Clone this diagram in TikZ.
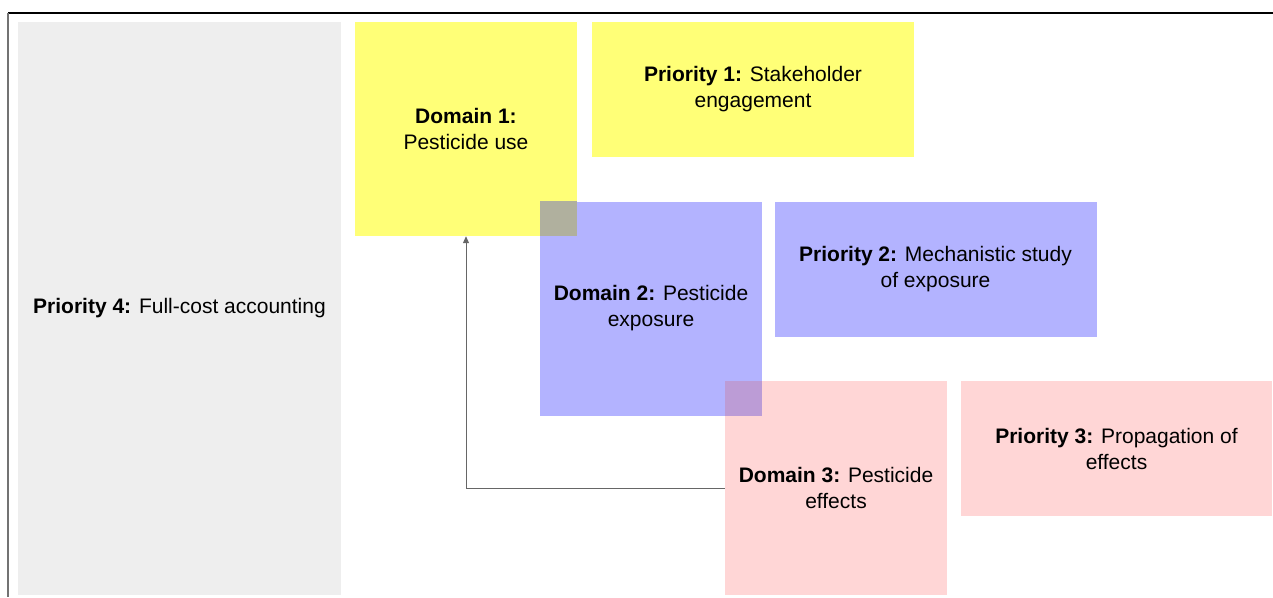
\documentclass[tikz,border=0pt]{standalone}
\usepackage{fontspec}
\setmainfont{Liberation Sans}
\usepackage{xcolor}
\usetikzlibrary{arrows.meta}

\definecolor{yellowbox}{HTML}{FFFF77}
\definecolor{bluebox}{HTML}{B3B3FF}
\definecolor{pinkbox}{HTML}{FFD6D6}
\definecolor{graybox}{HTML}{EEEEEE}
\definecolor{olivemix}{HTML}{B0B09E}
\definecolor{purplemix}{HTML}{BC9CD6}

\begin{document}
\begin{tikzpicture}[x=1pt, y=-1pt,
    box/.style={inner sep=0pt, align=center, font=\fontsize{21}{26}\selectfont},
    dombox/.style={box, minimum width=222pt, minimum height=214pt},
    prbox/.style={box, minimum width=322pt, minimum height=135pt},
    link/.style={draw=gray!80!black, line width=1pt, -{Triangle[width=6pt, length=7pt]}},
]
\useasboundingbox (0,0) rectangle (1273,597);

% frame
\draw[line width=1.5pt] (8,13) -- (1273,13);
\draw[gray!90!black, line width=2pt] (8,13) -- (8,597);

% cost column
\node[box, fill=graybox, minimum width=323pt, minimum height=573pt] (pfour) at (179.5,308.5)
    {\textbf{Priority 4:} Full-cost accounting};

% domains
\node[dombox, fill=yellowbox] (done) at (466,129) {\textbf{Domain 1:}\\Pesticide use};
\node[dombox, fill=bluebox] (dtwo) at (651,308.5) {\textbf{Domain 2:} Pesticide\\exposure};
\node[dombox, fill=pinkbox] (dthree) at (836,488) {\textbf{Domain 3:} Pesticide\\effects};

% overlaps
\fill[olivemix] (dtwo.north west) rectangle (done.south east);
\fill[purplemix] (dthree.north west) rectangle (dtwo.south east);

% priorities
\node[prbox, fill=yellowbox] (pone) at (753,89.5) {\textbf{Priority 1:} Stakeholder\\engagement};
\node[prbox, fill=bluebox] (ptwo) at (935.5,269) {\textbf{Priority 2:} Mechanistic study\\of exposure};
\node[prbox, fill=pinkbox, minimum width=311pt] (pthree) at (1116.5,448.5) {\textbf{Priority 3:} Propagation of\\effects};

% feedback
\draw[link] (dthree.west) -| (done.south);

\end{tikzpicture}
\end{document}
